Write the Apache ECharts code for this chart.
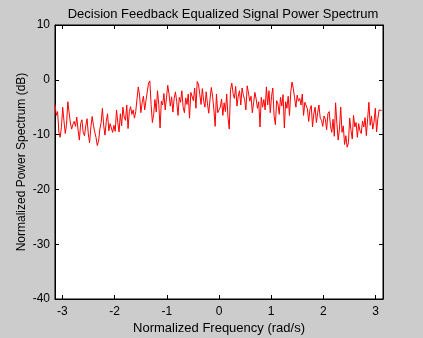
<!DOCTYPE html>
<html>
<head>
<meta charset="utf-8">
<script src="https://cdn.jsdelivr.net/npm/echarts@6/dist/echarts.min.js"></script>
<style>
  html, body { margin: 0; padding: 0; background: #cccccc; }
  #chart { width: 423px; height: 338px; }
</style>
</head>
<body>
<div id="chart"></div>
<script>
// Power spectrum (dB) of the DFE-equalized signal, 256 bins across [-pi, pi)
const spectrumDb = [
  -4.5, -6.5, -5.8, -9.5, -10.5, -8.7, -5.0, -7.5, -9.8, -8.2, -4.0, -4.2, -7.9, -9.0, -8.1, -7.6,
  -8.5, -6.8, -9.2, -11.0, -8.0, -7.3, -9.6, -10.2, -8.4, -7.1, -9.9, -11.5, -8.6, -6.7, -8.3, -9.5,
  -10.5, -12.0, -11.2, -9.0, -7.8, -5.2, -8.4, -10.1, -7.6, -6.2, -9.3, -8.0, -8.8, -9.6, -8.3, -9.4,
  -5.5, -7.8, -9.5, -6.2, -8.4, -5.0, -6.8, -7.4, -4.6, -8.9, -5.8, -4.9, -6.3, -5.5, -7.0, -5.8,
  -3.5, -1.3, -2.8, -6.0, -4.2, -3.0, -5.5, -3.8, -2.2, -0.6, -0.2, -4.5, -7.8, -6.3, -3.6, -5.9,
  -2.0, -4.5, -8.8, -3.9, -4.6, -2.5, -5.5, -3.3, -1.0, -2.6, -4.8, -3.1, -5.9, -3.4, -2.2, -4.0,
  -6.5, -3.2, -4.1, -2.0, -5.0, -6.0, -3.3, -4.5, -2.6, -7.0, -2.3, -2.5, -3.8, -1.5, -5.2, -0.3,
  -0.8, -2.7, -4.5, -1.6, -3.8, -5.0, -2.2, -4.4, -6.1, -3.5, -1.4, -3.0, -5.5, -8.5, -2.6, -6.0,
  -6.2, -5.0, -3.5, -6.5, -4.2, -5.8, -2.6, -6.8, -9.0, -1.8, -0.6, -2.5, -3.4, -1.2, -4.8, -3.0,
  -2.0, -4.6, -1.5, -2.8, -3.6, -5.5, -1.1, -2.4, -3.9, -3.0, -6.0, -4.2, -2.3, -3.5, -5.2, -4.0,
  -8.6, -3.2, -5.0, -3.6, -5.5, -1.3, -4.6, -2.0, -6.0, -3.0, -1.5, -6.6, -8.2, -3.8, -4.4, -6.3,
  -3.2, -4.8, -2.7, -8.8, -4.0, -5.2, -3.0, -6.5, -2.2, -0.4, -1.6, -3.3, -5.0, -2.8, -3.9, -3.4,
  -4.6, -2.6, -6.5, -4.1, -3.8, -5.3, -7.6, -5.4, -4.7, -8.6, -6.2, -5.0, -7.8, -6.0, -4.6, -7.0,
  -7.4, -8.5, -6.6, -7.2, -9.1, -6.2, -5.8, -8.4, -9.6, -7.2, -10.3, -4.2, -8.0, -11.0, -9.0, -5.0,
  -9.6, -8.4, -11.8, -10.2, -12.3, -11.5, -7.0, -9.2, -10.8, -6.5, -8.6, -7.8, -10.5, -8.0, -9.3, -9.8,
  -7.5, -8.6, -6.9, -10.2, -7.1, -4.1, -8.3, -6.6, -9.0, -7.7, -5.2, -9.5, -7.0, -5.5, -5.8, -5.6
];

const xTicks = [-3, -2, -1, 0, 1, 2, 3];
const yTicks = [-40, -30, -20, -10, 0, 10];

// frequency grid: bin k sits at -pi + 2*pi*k/N
const nBins = spectrumDb.length;
const points = spectrumDb.map((v, k) => [-Math.PI + 2 * Math.PI * k / nBins, v]);

const font = '"Liberation Sans", Arial, Helvetica, sans-serif';
const tickStyle = { show: true, inside: true, length: 4, lineStyle: { color: '#000', width: 1 } };

const chart = echarts.init(document.getElementById('chart'), null, { renderer: 'canvas' });
chart.setOption({
  animation: false,
  backgroundColor: '#cccccc',
  title: {
    text: 'Decision Feedback Equalized Signal Power Spectrum',
    left: 218, top: 3, textAlign: 'center',
    textStyle: { fontFamily: font, fontSize: 13, fontWeight: 'normal', color: '#000' }
  },
  grid: {
    left: 55, right: 40, top: 25, bottom: 39,
    outerBoundsMode: 'none', containLabel: false,
    show: true, backgroundColor: '#ffffff', borderColor: '#000', borderWidth: 1
  },
  xAxis: [{
    type: 'value', min: -Math.PI, max: Math.PI,
    name: 'Normalized Frequency (rad/s)', nameLocation: 'middle', nameGap: 23,
    nameMoveOverlap: false,
    nameTextStyle: { fontFamily: font, fontSize: 13, color: '#000' },
    axisLine: { show: true, onZero: false, lineStyle: { color: '#000' } },
    axisTick: Object.assign({ customValues: xTicks }, tickStyle),
    axisLabel: { customValues: xTicks, fontFamily: font, fontSize: 12, color: '#000', margin: 7 },
    splitLine: { show: false }
  }, {
    type: 'value', position: 'top', min: -Math.PI, max: Math.PI,
    axisLine: { show: true, onZero: false, lineStyle: { color: '#000' } },
    axisTick: Object.assign({ customValues: xTicks }, tickStyle),
    axisLabel: { show: false },
    splitLine: { show: false }
  }],
  yAxis: [{
    type: 'value', min: -40, max: 10, interval: 10,
    name: 'Normalized Power Spectrum (dB)', nameLocation: 'middle', nameGap: 27,
    nameMoveOverlap: false,
    nameTextStyle: { fontFamily: font, fontSize: 12, color: '#000' },
    axisLine: { show: true, onZero: false, lineStyle: { color: '#000' } },
    axisTick: Object.assign({ customValues: yTicks }, tickStyle),
    axisLabel: { customValues: yTicks, fontFamily: font, fontSize: 12, color: '#000', margin: 5 },
    splitLine: { show: false }
  }, {
    type: 'value', position: 'right', min: -40, max: 10, interval: 10,
    axisLine: { show: true, onZero: false, lineStyle: { color: '#000' } },
    axisTick: Object.assign({ customValues: yTicks }, tickStyle),
    axisLabel: { show: false },
    splitLine: { show: false }
  }],
  series: [{
    type: 'line',
    data: points,
    xAxisIndex: 0, yAxisIndex: 0,
    showSymbol: false,
    lineStyle: { color: '#ff0000', width: 1 },
    silent: true
  }]
});
</script>
</body>
</html>
